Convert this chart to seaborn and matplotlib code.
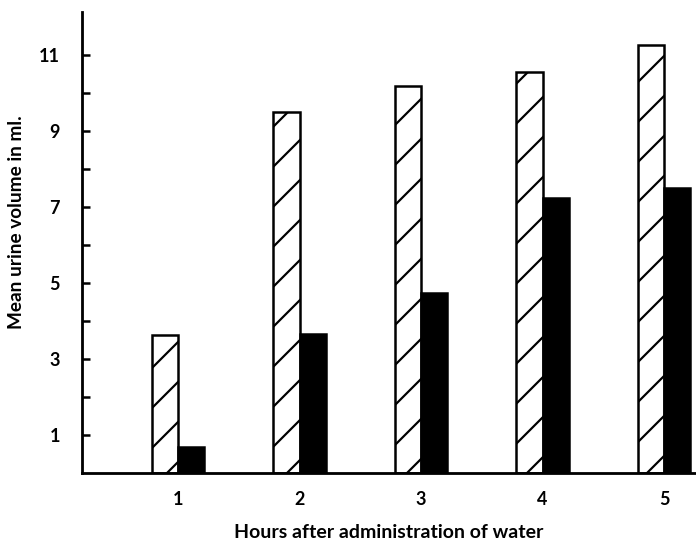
import numpy as np
import pandas as pd
import matplotlib.pyplot as plt
import seaborn as sns

# values (ml)
hours = ['1', '2', '3', '4', '5']
hatched_ml = [3.63, 9.51, 10.18, 10.55, 11.26]
solid_ml = [0.68, 3.66, 4.74, 7.24, 7.50]
group_names = ['hatched', 'solid']
y_major = [1, 3, 5, 7, 9, 11]
y_minor = [2, 4, 6, 8, 10]

df = pd.DataFrame({
    'hour': hours * 2,
    'volume': hatched_ml + solid_ml,
    'group': [group_names[0]] * len(hours) + [group_names[1]] * len(hours),
})

# hatch cell scales with dpi -> lower dpi gives denser hatch lines (~30 px apart)
DPI = 120


def px(v):
    ''' pixels -> points at the chosen dpi '''
    return v * 72 / DPI


sns.set_theme(style='ticks')
plt.rcParams['font.family'] = ['Lato', 'DejaVu Sans']
plt.rcParams['hatch.linewidth'] = px(2.2)
plt.rcParams['hatch.color'] = 'black'

fig = plt.figure(figsize=(696 / DPI, 543 / DPI), dpi=DPI)
ax = fig.add_axes([82 / 696, 70 / 543, 614 / 696, 461 / 543])

sns.barplot(
    data=df, x='hour', y='volume', hue='group',
    order=hours, hue_order=group_names,
    palette=['white', 'black'], saturation=1, width=0.43,
    edgecolor='black', linewidth=px(2.5), legend=False, ax=ax,
)
for bar in ax.containers[0]:
    bar.set_hatch('/')

ax.set_xlim(-0.79, 4.263)
ax.set_ylim(0, 12.13)
ax.set_yticks(y_major)
ax.set_yticks(y_minor, minor=True)
ax.set_yticklabels([str(v) for v in y_major])

sns.despine(ax=ax)
for side in ['left', 'bottom']:
    ax.spines[side].set_linewidth(px(2.8))
    ax.spines[side].set_color('black')

ax.tick_params(axis='y', which='both', direction='in', length=px(8), width=px(2.5),
               pad=px(22), labelsize=px(18), colors='black')
ax.tick_params(axis='x', length=0, pad=px(18), labelsize=px(18), colors='black')
for lab in ax.get_xticklabels() + ax.get_yticklabels():
    lab.set_fontweight('bold')

ax.set_xlabel('Hours after administration of water', fontsize=px(19.5),
              fontweight='bold', labelpad=px(16), color='black')
ax.set_ylabel('Mean urine volume in ml.', fontsize=px(19),
              fontweight='bold', color='black')
ax.yaxis.set_label_coords(-0.093, 0.545)

fig.savefig('out.png', dpi=DPI)
